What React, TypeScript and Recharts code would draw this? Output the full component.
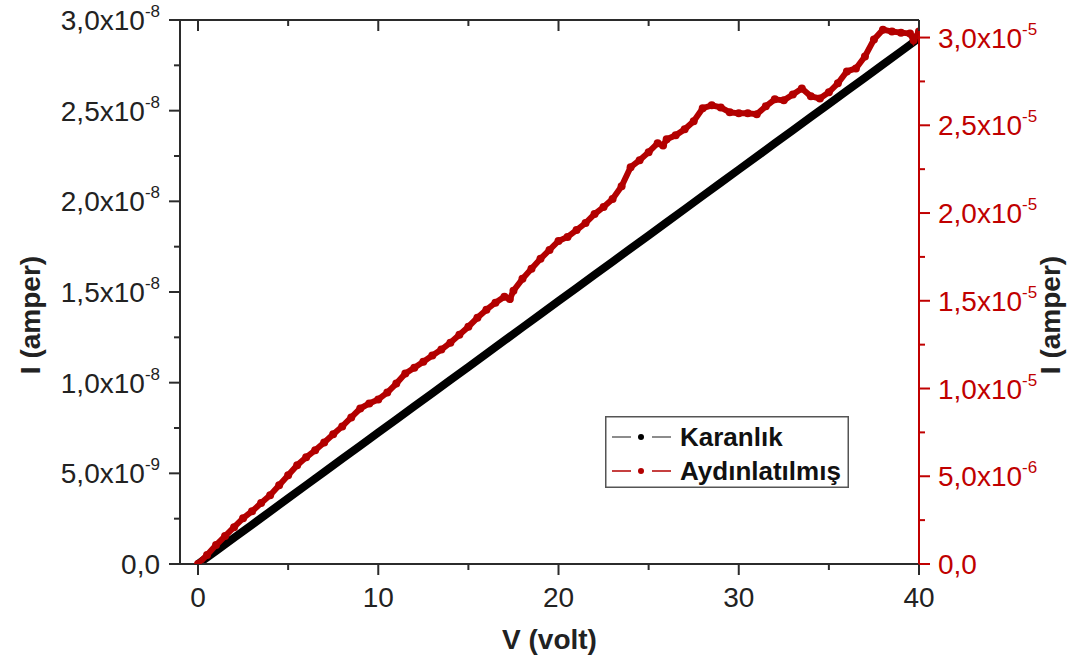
import React from 'react';
import { ComposedChart, Line, XAxis, YAxis, Legend, Label } from 'recharts';

const FONT = '"Liberation Sans", Arial, Helvetica, sans-serif';
const AXIS_DARK = '#2b2b2b';
const AXIS_RED = '#c00000';
const DARK_COLOR = '#000000';
const LIGHT_COLOR = '#b30000';

// Karanlık (dark) — current in units of 1e-9 A
const darkVoltage = [0, 1, 2, 3, 4, 5, 6, 7, 8, 9, 10, 11, 12, 13, 14, 15, 16, 17, 18, 19, 20, 21, 22, 23, 24, 25, 26, 27, 28, 29, 30, 31, 32, 33, 34, 35, 36, 37, 38, 39, 40];
const darkCurrent = [0, 0.72, 1.45, 2.17, 2.9, 3.62, 4.35, 5.07, 5.8, 6.52, 7.25, 7.97, 8.7, 9.42, 10.15, 10.87, 11.6, 12.32, 13.05, 13.77, 14.5, 15.22, 15.95, 16.67, 17.4, 18.12, 18.85, 19.57, 20.3, 21.02, 21.75, 22.47, 23.2, 23.92, 24.65, 25.37, 26.1, 26.82, 27.55, 28.27, 29.0];

// Aydınlatılmış (illuminated) — current in units of 1e-5 A
const lightVoltage = [0, 0.5, 1, 1.5, 2, 2.5, 3, 3.5, 4, 4.5, 5, 5.5, 6, 6.5, 7, 7.5, 8, 8.5, 9, 9.5, 10, 10.5, 11, 11.5, 12, 12.5, 13, 13.5, 14, 14.5, 15, 15.5, 16, 16.5, 17, 17.3, 17.5, 18, 18.5, 19, 19.5, 20, 20.5, 21, 21.5, 22, 22.5, 23, 23.5, 24, 24.5, 25, 25.5, 25.8, 26, 26.5, 27, 27.5, 28, 28.5, 29, 29.5, 30, 30.5, 31, 31.5, 32, 32.5, 33, 33.5, 34, 34.5, 35, 35.5, 36, 36.5, 37, 37.5, 38, 38.5, 39, 39.5, 39.7, 40];
const lightCurrent = [0, 0.051, 0.108, 0.159, 0.21, 0.261, 0.301, 0.347, 0.392, 0.449, 0.506, 0.563, 0.608, 0.648, 0.693, 0.739, 0.784, 0.835, 0.886, 0.915, 0.938, 0.977, 1.028, 1.085, 1.119, 1.153, 1.188, 1.222, 1.261, 1.307, 1.352, 1.403, 1.449, 1.489, 1.523, 1.51, 1.557, 1.625, 1.682, 1.739, 1.79, 1.841, 1.864, 1.903, 1.943, 1.994, 2.034, 2.08, 2.153, 2.261, 2.301, 2.347, 2.398, 2.385, 2.42, 2.443, 2.477, 2.523, 2.597, 2.614, 2.602, 2.574, 2.568, 2.568, 2.563, 2.608, 2.648, 2.642, 2.676, 2.71, 2.665, 2.653, 2.688, 2.739, 2.807, 2.824, 2.892, 2.989, 3.045, 3.034, 3.028, 3.023, 2.985, 3.034];

const xTicks = [0, 5, 10, 15, 20, 25, 30, 35, 40];
const xTickLabels = ['0', '', '10', '', '20', '', '30', '', '40'];

const leftTicks = [0, 2.5, 5, 7.5, 10, 12.5, 15, 17.5, 20, 22.5, 25, 27.5, 30];
const leftTickMantissa = ['0,0', '', '5,0x10', '', '1,0x10', '', '1,5x10', '', '2,0x10', '', '2,5x10', '', '3,0x10'];
const leftTickExponent = ['', '', '-9', '', '-8', '', '-8', '', '-8', '', '-8', '', '-8'];

const rightTicks = [0, 0.25, 0.5, 0.75, 1, 1.25, 1.5, 1.75, 2, 2.25, 2.5, 2.75, 3];
const rightTickMantissa = ['0,0', '', '5,0x10', '', '1,0x10', '', '1,5x10', '', '2,0x10', '', '2,5x10', '', '3,0x10'];
const rightTickExponent = ['', '', '-6', '', '-5', '', '-5', '', '-5', '', '-5', '', '-5'];

const legendNames = ['Karanlık', 'Aydınlatılmış'];

const darkData = darkVoltage.map((v, k) => ({ v, i: darkCurrent[k] }));
const lightData = lightVoltage.map((v, k) => ({ v, i: lightCurrent[k] }));

const TICK_FONT = 28;
const SUP_FONT = 17;

const BottomTick = (props: any) => {
  const { x, y, index } = props;
  const label = xTickLabels[index];
  const major = label !== '';
  return (
    <g>
      <line x1={x} x2={x} y1={y} y2={y + (major ? 11 : 6)} stroke={AXIS_DARK} strokeWidth={2} />
      {major && (
        <text x={x} y={y + 43} textAnchor="middle" fontSize={TICK_FONT} fill="#222" fontFamily={FONT}>
          {label}
        </text>
      )}
    </g>
  );
};

const TopTick = (props: any) => {
  const { x, y, index } = props;
  const major = xTickLabels[index] !== '';
  return <line x1={x} x2={x} y1={y} y2={y + (major ? 11 : 6)} stroke={AXIS_DARK} strokeWidth={2} />;
};

const LeftTick = (props: any) => {
  const { x, y, index } = props;
  const m = leftTickMantissa[index];
  const e = leftTickExponent[index];
  const major = m !== '';
  return (
    <g>
      <line x1={x - (major ? 11 : 6)} x2={x} y1={y} y2={y} stroke={AXIS_DARK} strokeWidth={2} />
      {major && (
        <text x={x - 20} y={y + 10} textAnchor="end" fontSize={TICK_FONT} fill="#222" fontFamily={FONT}>
          <tspan>{m}</tspan>
          {e !== '' && (
            <tspan dy={-13} fontSize={SUP_FONT}>
              {e}
            </tspan>
          )}
        </text>
      )}
    </g>
  );
};

const RightTick = (props: any) => {
  const { x, y, index } = props;
  const m = rightTickMantissa[index];
  const e = rightTickExponent[index];
  const major = m !== '';
  return (
    <g>
      <line x1={x} x2={x + (major ? 11 : 6)} y1={y} y2={y} stroke={AXIS_RED} strokeWidth={2} />
      {major && (
        <text x={x + 19} y={y + 10} textAnchor="start" fontSize={TICK_FONT} fill={AXIS_RED} fontFamily={FONT}>
          <tspan>{m}</tspan>
          {e !== '' && (
            <tspan dy={-13} fontSize={SUP_FONT}>
              {e}
            </tspan>
          )}
        </text>
      )}
    </g>
  );
};

const XTitle = (props: any) => {
  const vb = props.viewBox || { x: 180, y: 564, width: 739 };
  return (
    <text x={vb.x + vb.width / 2} y={vb.y + 85} textAnchor="middle" fontSize={28} fontWeight="bold" fill="#222" fontFamily={FONT}>
      V (volt)
    </text>
  );
};

const LeftTitle = () => {
  const cx = 30;
  const cy = 315;
  return (
    <text x={cx} y={cy} transform={`rotate(-90, ${cx}, ${cy})`} textAnchor="middle" dominantBaseline="central" fontSize={28} fontWeight="bold" fill="#222" fontFamily={FONT}>
      I (amper)
    </text>
  );
};

const RightTitle = () => {
  const cx = 1050;
  const cy = 315;
  return (
    <text x={cx} y={cy} transform={`rotate(-90, ${cx}, ${cy})`} textAnchor="middle" dominantBaseline="central" fontSize={28} fontWeight="bold" fill="#222" fontFamily={FONT}>
      I (amper)
    </text>
  );
};

const LegendBox = () => {
  const rows = [
    { name: legendNames[0], line: '#666666', dot: DARK_COLOR, y: 21 },
    { name: legendNames[1], line: LIGHT_COLOR, dot: LIGHT_COLOR, y: 55 },
  ];
  return (
    <svg width={244} height={72} style={{ display: 'block' }}>
      <rect x={0.75} y={0.75} width={242.5} height={70.5} fill="#fff" stroke="#555" strokeWidth={1.5} />
      {rows.map((r) => (
        <g key={r.name}>
          <line x1={7} x2={26} y1={r.y} y2={r.y} stroke={r.line} strokeWidth={1.5} />
          <circle cx={36} cy={r.y} r={3} fill={r.dot} />
          <line x1={47} x2={66} y1={r.y} y2={r.y} stroke={r.line} strokeWidth={1.5} />
          <text x={75} y={r.y + 9} fontSize={26} fontWeight="bold" fill="#111" fontFamily={FONT}>
            {r.name}
          </text>
        </g>
      ))}
    </svg>
  );
};

export default function App() {
  return (
    <div style={{ position: 'absolute', left: 0, top: 0, width: 1078, height: 672, background: '#fff' }}>
      <ComposedChart width={1078} height={672} margin={{ top: 0, right: 0, bottom: 0, left: 0 }}>
        <XAxis
          xAxisId="bottom"
          dataKey="v"
          type="number"
          domain={[-1, 40]}
          allowDataOverflow
          ticks={xTicks}
          interval={0}
          height={108}
          tickSize={0}
          tickMargin={0}
          tick={<BottomTick />}
          tickLine={false}
          axisLine={{ stroke: AXIS_DARK, strokeWidth: 2 }}
        >
          <Label content={<XTitle />} />
        </XAxis>
        <XAxis
          xAxisId="top"
          orientation="top"
          dataKey="v"
          type="number"
          domain={[-1, 40]}
          allowDataOverflow
          ticks={xTicks}
          interval={0}
          height={20}
          tickSize={0}
          tickMargin={0}
          tick={<TopTick />}
          tickLine={false}
          axisLine={{ stroke: AXIS_DARK, strokeWidth: 2 }}
        />
        <YAxis
          yAxisId="left"
          type="number"
          domain={[0, 30]}
          allowDataOverflow
          ticks={leftTicks}
          interval={0}
          width={180}
          tickSize={0}
          tickMargin={0}
          tick={<LeftTick />}
          tickLine={false}
          axisLine={{ stroke: AXIS_DARK, strokeWidth: 2 }}
        >
          <Label content={<LeftTitle />} />
        </YAxis>
        <YAxis
          yAxisId="right"
          orientation="right"
          type="number"
          domain={[0, 3.1]}
          allowDataOverflow
          ticks={rightTicks}
          interval={0}
          width={159}
          tickSize={0}
          tickMargin={0}
          tick={<RightTick />}
          tickLine={false}
          axisLine={{ stroke: AXIS_RED, strokeWidth: 2 }}
        >
          <Label content={<RightTitle />} />
        </YAxis>
        <Line
          xAxisId="bottom"
          yAxisId="left"
          data={darkData}
          dataKey="i"
          type="linear"
          stroke={DARK_COLOR}
          strokeWidth={8}
          dot={false}
          isAnimationActive={false}
          name={legendNames[0]}
        />
        <Line
          xAxisId="bottom"
          yAxisId="right"
          data={lightData}
          dataKey="i"
          type="linear"
          stroke={LIGHT_COLOR}
          strokeWidth={6}
          dot={{ r: 4, fill: LIGHT_COLOR, stroke: 'none' }}
          isAnimationActive={false}
          name={legendNames[1]}
        />
        <Legend
          layout="vertical"
          align="center"
          verticalAlign="middle"
          content={<LegendBox />}
          wrapperStyle={{ position: 'absolute', left: 605, top: 416, width: 244, height: 72, margin: 0, padding: 0 }}
        />
      </ComposedChart>
    </div>
  );
}
